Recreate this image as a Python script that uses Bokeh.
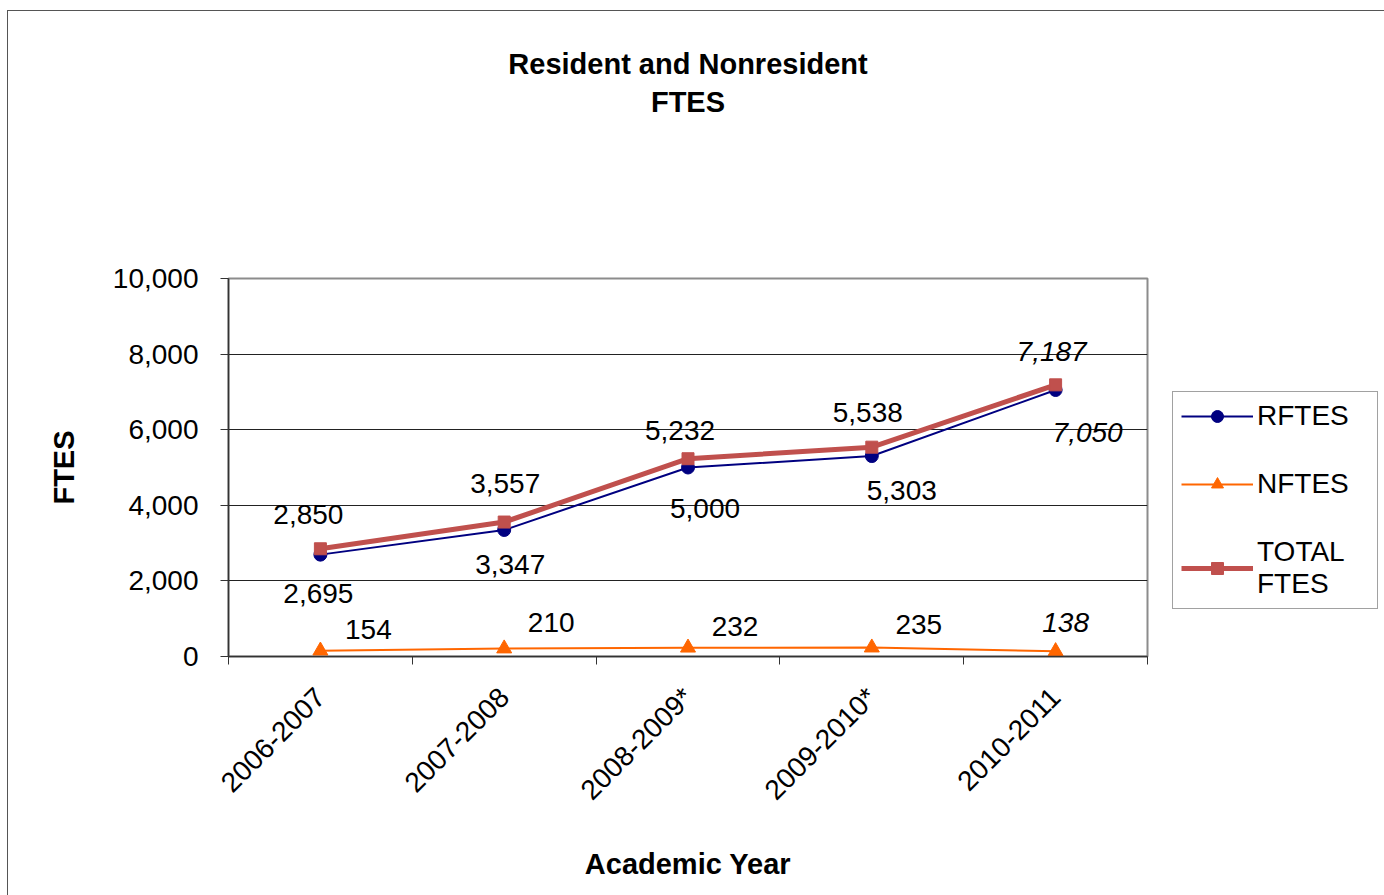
import math
from bokeh.plotting import figure
from bokeh.models import (Range1d, FixedTicker, NumeralTickFormatter, ColumnDataSource,
                          LabelSet, Title, Legend, LegendItem)
from bokeh.core.properties import value
from bokeh.embed import file_html
from bokeh.resources import INLINE

# ---------------- data ----------------
years = ["2006-2007", "2007-2008", "2008-2009*", "2009-2010*", "2010-2011"]
rftes = [2695, 3347, 5000, 5303, 7050]
nftes = [154, 210, 232, 235, 138]
total = [2850, 3557, 5232, 5538, 7187]
y_ticks = [0, 2000, 4000, 6000, 8000, 10000]

# ---------------- label styling (screen offsets, px) ----------------
r_dx = [-2, 6, 17, 30, 32]
r_dy = [-39, -35, -41, -34, -42]
t_dx = [-12, 1, -8, -4, -4]
t_dy = [34, 39, 28, 35, 33]
n_dx = [48, 47, 47, 47, 10]
n_dy = [21, 26, 21, 23, 29]
lbl_style = ["normal", "normal", "normal", "normal", "italic"]

FONT = "Liberation Sans"
xs = [i + 0.5 for i in range(len(years))]

p = figure(frame_width=919, frame_height=378, output_backend="svg", toolbar_location=None,
           x_range=Range1d(0, len(years)), y_range=Range1d(y_ticks[0], y_ticks[-1]),
           min_border_left=220, min_border_right=233, min_border_top=267, min_border_bottom=240,
           margin=(11, 0, 0, 8))
p.styles = {"box-shadow": "0 0 0 1px #555555"}
p.background_fill_color = "white"
p.border_fill_color = "white"
p.outline_line_color = "#8c8c8c"
p.outline_line_width = 2

# x axis: labels at category centres, ticks at category boundaries
xa = p.xaxis[0]
xa.ticker = FixedTicker(ticks=xs, minor_ticks=list(range(len(years) + 1)))
xa.major_label_overrides = {x: y for x, y in zip(xs, years)}
xa.major_tick_line_color = None
xa.major_tick_in = 0
xa.major_tick_out = 0
xa.minor_tick_line_color = "#333333"
xa.minor_tick_in = 0
xa.minor_tick_out = 8
xa.axis_line_color = "#333333"
xa.axis_line_width = 1.5
xa.major_label_orientation = math.pi / 4
xa.major_label_text_font = FONT
xa.major_label_text_font_size = "28px"
xa.major_label_text_color = "black"
xa.major_label_standoff = 28
xa.axis_label = "Academic Year"
xa.axis_label_text_font = FONT
xa.axis_label_text_font_size = "29px"
xa.axis_label_text_font_style = "bold"
xa.axis_label_text_color = "black"
xa.axis_label_standoff = 28

ya = p.yaxis[0]
ya.ticker = FixedTicker(ticks=y_ticks)
ya.formatter = NumeralTickFormatter(format="0,0")
ya.major_tick_in = 0
ya.major_tick_out = 8
ya.major_tick_line_color = "#333333"
ya.minor_tick_line_color = None
ya.axis_line_color = "#333333"
ya.axis_line_width = 1.5
ya.major_label_text_font = FONT
ya.major_label_text_font_size = "28px"
ya.major_label_text_color = "black"
ya.major_label_standoff = 22
ya.axis_label = "FTES"
ya.axis_label_text_font = FONT
ya.axis_label_text_font_size = "29px"
ya.axis_label_text_font_style = "bold"
ya.axis_label_text_color = "black"
ya.axis_label_standoff = 30

p.xgrid.grid_line_color = None
p.ygrid.ticker = FixedTicker(ticks=y_ticks)
p.ygrid.grid_line_color = "#222222"
p.ygrid.grid_line_width = 1

# ---------------- series ----------------
r_line = p.line(xs, rftes, line_color="#000080", line_width=2)
r_pts = p.scatter(xs, rftes, marker="circle", size=13, color="#000080")
n_line = p.line(xs, nftes, line_color="#FF6600", line_width=2)
n_pts = p.scatter(xs, nftes, marker="triangle", size=15, color="#FF6600")
t_line = p.line(xs, total, line_color="#C0504D", line_width=5)
t_pts = p.scatter(xs, total, marker="square", size=12, color="#C0504D")

def add_labels(vals, dx, dy):
    src = ColumnDataSource(dict(x=xs, y=vals, t=[f"{v:,}" for v in vals],
                                dx=dx, dy=dy, st=lbl_style))
    ls = LabelSet(x="x", y="y", text="t", source=src, x_offset="dx", y_offset="dy",
                  text_align="center", text_baseline="middle", text_font_style="st",
                  text_font=value(FONT), text_font_size=value("28px"), text_color="black")
    p.add_layout(ls)

add_labels(rftes, r_dx, r_dy)
add_labels(total, t_dx, t_dy)
add_labels(nftes, n_dx, n_dy)

# ---------------- title (two centred lines, with a blank spacer below) ----------------
p.title = None
title_kw = dict(align="center", text_font=FONT, text_font_size="29px",
                text_font_style="bold", text_color="black", offset=6)
p.add_layout(Title(text=" ", standoff=125, **title_kw), "above")
p.add_layout(Title(text="FTES", standoff=4, **title_kw), "above")
p.add_layout(Title(text="Resident and Nonresident", standoff=4, **title_kw), "above")

# ---------------- legend ----------------
legend = Legend(items=[LegendItem(label="RFTES", renderers=[r_line, r_pts]),
                       LegendItem(label="NFTES", renderers=[n_line, n_pts]),
                       LegendItem(label="TOTAL\nFTES", renderers=[t_line, t_pts])],
                location=(25, 47))
legend.label_text_font = FONT
legend.label_text_font_size = "28px"
legend.label_text_color = "black"
legend.glyph_width = 72
legend.glyph_height = 30
legend.label_height = 30
legend.label_width = 112
legend.label_standoff = 4
legend.spacing = 36
legend.padding = 8
legend.margin = 0
legend.border_line_color = "#444444"
legend.border_line_width = 1.5
legend.background_fill_alpha = 1
p.add_layout(legend, "right")

open("out.html", "w").write(file_html(p, INLINE))
